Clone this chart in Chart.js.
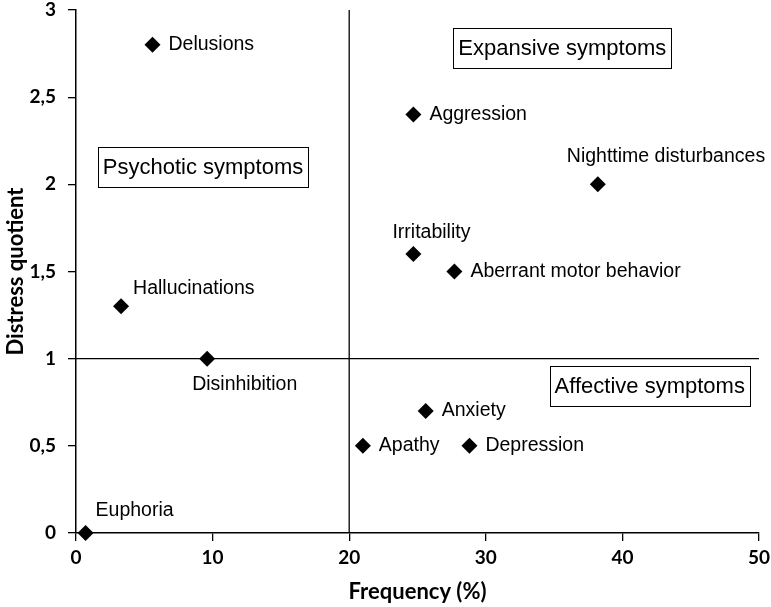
<!DOCTYPE html>
<html>
<head>
<meta charset="utf-8">
<script src="https://cdn.jsdelivr.net/npm/chart.js@4/dist/chart.umd.min.js"></script>
<style>
    body { margin: 0; background: #fff; }
    #wrap { width: 771px; height: 607px; }
</style>
</head>
<body>
<div id="wrap"><canvas id="myGraph"></canvas></div>
<script>
// Symptoms and their values
var symptoms = ['Delusions', 'Hallucinations', 'Disinhibition', 'Euphoria', 'Aggression', 'Irritability',
    'Aberrant motor behavior', 'Nighttime disturbances', 'Anxiety', 'Apathy', 'Depression'];
var frequency = [5.6, 3.3, 9.6, 0.7, 24.7, 24.7, 27.7, 38.2, 25.6, 21.0, 28.8];
var distress = [2.8, 1.3, 1.0, 0.0, 2.4, 1.6, 1.5, 2.0, 0.7, 0.5, 0.5];

// Quadrant boxes
var quadrantNames = ['Psychotic symptoms', 'Expansive symptoms', 'Affective symptoms'];

// Dividing lines
var splitFrequency = 20;
var splitDistress = 1;

// Axis ranges
var xRange = [0, 50, 10];
var yRange = [0, 3, 0.5];

// Where each label sits relative to its point (px)
var labelOffset = {
    'Hallucinations': [12, -18],
    'Disinhibition': [-15, 26],
    'Euphoria': [10, -22],
    'Irritability': [-21, -21],
    'Nighttime disturbances': [-31, -28]
};

// Where each box sits (data units, centre)
var quadrantAt = [[9.3, 2.1], [35.6, 2.78], [42.0, 0.845]];

var labelFont = '19.5px "Liberation Sans", Arial, sans-serif';
var boxFont = '22px "Liberation Sans", Arial, sans-serif';

// Draw point labels and quadrant boxes
var notes = {
    id: 'notes',
    afterDatasetsDraw: function (chart) {
        var c = chart.ctx;
        var xs = chart.scales.x;
        var ys = chart.scales.y;
        c.save();
        c.fillStyle = '#000';
        c.textBaseline = 'middle';
        c.font = labelFont;
        symptoms.forEach(function (name, i) {
            var px = xs.getPixelForValue(frequency[i]);
            var py = ys.getPixelForValue(distress[i]);
            var off = labelOffset[name] || [16, 0];
            c.textAlign = 'left';
            c.fillText(name, px + off[0], py + off[1]);
        });
        c.font = boxFont;
        c.strokeStyle = '#000';
        c.lineWidth = 1;
        quadrantNames.forEach(function (name, i) {
            var cx = xs.getPixelForValue(quadrantAt[i][0]);
            var cy = ys.getPixelForValue(quadrantAt[i][1]);
            var w = c.measureText(name).width + 10;
            var h = 40;
            c.fillStyle = '#fff';
            c.fillRect(cx - w / 2, cy - h / 2, w, h);
            c.strokeRect(Math.round(cx - w / 2) + 0.5, Math.round(cy - h / 2) + 0.5, Math.round(w), h);
            c.fillStyle = '#000';
            c.textAlign = 'center';
            c.fillText(name, cx, cy + 1);
        });
        c.restore();
    }
};

var points = symptoms.map(function (s, i) {
    return { x: frequency[i], y: distress[i] };
});

var tickFont = { family: 'Lato', size: 19, weight: 'bold' };
var titleFont = { family: 'Lato', size: 22, weight: 'bold' };

var ctx = document.getElementById('myGraph').getContext('2d');
var chart = new Chart(ctx, {
    type: 'scatter',
    data: {
        datasets: [
            {
                label: 'Symptoms',
                data: points,
                pointStyle: 'rectRot',
                pointRadius: 8,
                pointBackgroundColor: '#000',
                pointBorderColor: '#000',
                pointBorderWidth: 0,
                clip: false
            },
            {
                label: 'Frequency split',
                type: 'line',
                data: [{ x: splitFrequency, y: yRange[0] }, { x: splitFrequency, y: yRange[1] }],
                borderColor: '#000',
                borderWidth: 1.3,
                pointRadius: 0,
                fill: false
            },
            {
                label: 'Distress split',
                type: 'line',
                data: [{ x: xRange[0], y: splitDistress }, { x: xRange[1], y: splitDistress }],
                borderColor: '#000',
                borderWidth: 1.3,
                pointRadius: 0,
                fill: false
            }
        ]
    },
    options: {
        responsive: true,
        maintainAspectRatio: false,
        animation: false,
        layout: { padding: { top: 10, right: 12, left: 0, bottom: 0 } },
        plugins: {
            legend: { display: false },
            tooltip: { enabled: false }
        },
        scales: {
            x: {
                type: 'linear',
                min: xRange[0],
                max: xRange[1],
                afterFit: function (s) {
                    s.height = 74;
                    s.paddingLeft = 0;
                    s.paddingRight = 0;
                },
                ticks: { stepSize: xRange[2], color: '#000', font: tickFont, padding: 5 },
                grid: { drawOnChartArea: false, tickLength: 8, color: '#000', lineWidth: 1.3 },
                border: { color: '#000', width: 1.5 },
                title: { display: true, text: 'Frequency (%)', color: '#000', font: titleFont, padding: { top: 2, bottom: 2 } }
            },
            y: {
                min: yRange[0],
                max: yRange[1],
                afterFit: function (s) {
                    s.width = 76;
                    s.paddingTop = 0;
                    s.paddingBottom = 0;
                },
                ticks: {
                    stepSize: yRange[2],
                    color: '#000',
                    font: tickFont,
                    padding: 12,
                    callback: function (v) { return String(v).replace('.', ','); }
                },
                grid: { drawOnChartArea: false, tickLength: 8, color: '#000', lineWidth: 1.3 },
                border: { color: '#000', width: 1.5 },
                title: { display: true, text: 'Distress quotient', color: '#000', font: titleFont, padding: { top: 3, bottom: 4 } }
            }
        }
    },
    plugins: [notes]
});
</script>
</body>
</html>
